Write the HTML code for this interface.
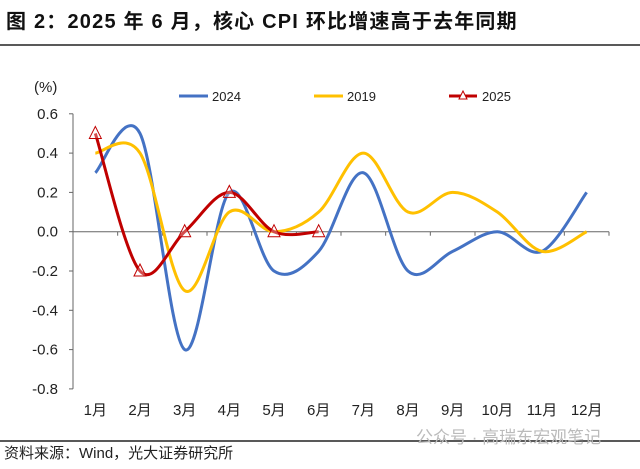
<!DOCTYPE html>
<html><head><meta charset="utf-8"><style>
body{margin:0;background:#fff;width:640px;height:464px;overflow:hidden;font-family:"Liberation Sans","Noto Sans CJK SC",sans-serif}
</style></head><body>
<svg width="640" height="464" xmlns="http://www.w3.org/2000/svg" style="font-family:'Liberation Sans','Noto Sans CJK SC',sans-serif">
<text x="6" y="28" font-size="20" font-weight="bold" fill="#111" letter-spacing="1.2">图 2：2025 年 6 月，核心 CPI 环比增速高于去年同期</text>
<line x1="0" y1="45" x2="640" y2="45" stroke="#222" stroke-width="1.5"/>
<text x="34" y="92" font-size="15" fill="#222">(%)</text>
<g id="axes"></g>
<g id="series"></g>
<g font-size="13" fill="#222">
<line x1="179" y1="96" x2="208" y2="96" stroke="#4472C4" stroke-width="3"/><text x="212" y="101">2024</text>
<line x1="314" y1="96" x2="343" y2="96" stroke="#FFC000" stroke-width="3"/><text x="347" y="101">2019</text>
<line x1="449" y1="96" x2="477" y2="96" stroke="#C00000" stroke-width="3"/>
<polygon points="463,91 459,99 467,99" fill="#fff" stroke="#C00000"/><text x="482" y="101">2025</text>
</g>
<line x1="0" y1="441" x2="640" y2="441" stroke="#222" stroke-width="1.5"/>
<text x="4" y="458" font-size="15" fill="#222">资料来源：Wind，光大证券研究所</text>
<text x="416" y="443" font-size="17" fill="#bbb">公众号 · 高瑞东宏观笔记</text>
</svg>
<script>
const months=["1月","2月","3月","4月","5月","6月","7月","8月","9月","10月","11月","12月"];
const yTicks=[0.6,0.4,0.2,0.0,-0.2,-0.4,-0.6,-0.8];
const s2024=[0.3,0.5,-0.6,0.2,-0.2,-0.1,0.3,-0.2,-0.1,0.0,-0.1,0.2];
const s2019=[0.4,0.4,-0.3,0.1,0.0,0.1,0.4,0.1,0.2,0.1,-0.1,0.0];
const s2025=[0.5,-0.2,0.0,0.2,0.0,0.0];
const NS="http://www.w3.org/2000/svg";
const x0=73,x1=609,cw=(x1-x0)/12;
const X=i=>x0+cw*(i+0.5);
const Y=v=>231.7-v*196.5;
function mk(t,a,p){const e=document.createElementNS(NS,t);for(const k in a)e.setAttribute(k,a[k]);(p||document.getElementById('axes')).appendChild(e);return e;}
let l=mk('line',{x1:x0,y1:Y(0.6),x2:x0,y2:Y(-0.8),stroke:'#666'});


yTicks.forEach(v=>{mk('line',{x1:x0-4,y1:Y(v),x2:x0,y2:Y(v),stroke:'#666'});
 const t=mk('text',{x:x0-15,y:Y(v)+5,'font-size':15,'text-anchor':'end',fill:'#222'});t.textContent=v.toFixed(1);
 
 });
l=mk('line',{x1:x0,y1:Y(0),x2:x1,y2:Y(0),stroke:'#666'});


for(let i=0;i<=12;i++)mk('line',{x1:x0+cw*i,y1:Y(0),x2:x0+cw*i,y2:Y(0)+4,stroke:'#666'});
months.forEach((m,i)=>{const t=mk('text',{x:X(i),y:415,'font-size':15,'text-anchor':'middle',fill:'#222'});t.textContent=m;
 
 });
function path(d){const p=d.map((v,i)=>[X(i),Y(v)]);let s=`M${p[0][0]},${p[0][1]}`;
 for(let i=0;i<p.length-1;i++){const a=p[i-1]||p[i],b=p[i],c=p[i+1],e=p[i+2]||c;
 s+=` C${b[0]+(c[0]-a[0])/6},${b[1]+(c[1]-a[1])/6} ${c[0]-(e[0]-b[0])/6},${c[1]-(e[1]-b[1])/6} ${c[0]},${c[1]}`;}return s;}
const sg=document.getElementById('series');
let p=mk('path',{d:path(s2024),fill:'none',stroke:'#4472C4','stroke-width':3},sg);


p=mk('path',{d:path(s2019),fill:'none',stroke:'#FFC000','stroke-width':3},sg);


p=mk('path',{d:path(s2025),fill:'none',stroke:'#C00000','stroke-width':3},sg);


s2025.forEach((v,i)=>{const x=X(i),y=Y(v);const m=mk('polygon',{points:`${x},${y-7} ${x-6},${y+5} ${x+6},${y+5}`,fill:'rgba(255,255,255,0.3)',stroke:'#C00000'},sg);
 
 });
</script>
</body></html>
